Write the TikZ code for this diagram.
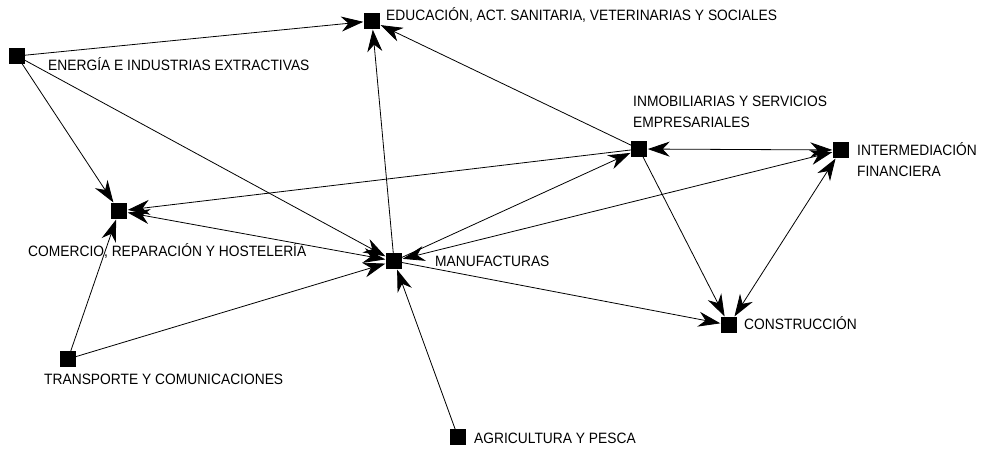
\documentclass[tikz,border=0pt]{standalone}
\usepackage{fontspec}
\setmainfont[FakeStretch=0.92]{Liberation Sans}
\usetikzlibrary{arrows.meta}

\tikzset{
    sector/.style = {
        draw,
        fill,
        rectangle,
        minimum size=15bp,
        inner sep=0pt
    },
    tag/.style = {
        anchor=base west,
        inner sep=0pt,
        align=left,
        font=\fontsize{15bp}{21bp}\selectfont
    },
    flow/.style = {
        -{Stealth[length=22bp, width=15bp, inset=7bp]},
        line width=0.8bp,
        shorten >=1bp
    },
    twoway/.style = {
        {Stealth[length=22bp, width=15bp, inset=7bp]}-{Stealth[length=22bp, width=15bp, inset=7bp]},
        line width=0.8bp,
        shorten >=1bp,
        shorten <=1bp
    }
}

\begin{document}
\begin{tikzpicture}[x=1bp, y=-1bp]
    \useasboundingbox (0,0) rectangle (982,449);

    % Draw all sectors
    \node[sector] (en) at (17,56)  {};
    \node[sector] (ed) at (372,21) {};
    \node[sector] (in) at (639,149) {};
    \node[sector] (if) at (841,150) {};
    \node[sector] (co) at (119,211) {};
    \node[sector] (ma) at (394,261) {};
    \node[sector] (cs) at (729,325) {};
    \node[sector] (tr) at (68,359)  {};
    \node[sector] (ag) at (458,437) {};

    % Draw labels
    \node[tag] (en-t) at (48,71)   {ENERGÍA E INDUSTRIAS EXTRACTIVAS};
    \node[tag] (ed-t) at (386,21)  {EDUCACIÓN, ACT. SANITARIA, VETERINARIAS Y SOCIALES};
    \node[tag] (in-t) at (633,128) {INMOBILIARIAS Y SERVICIOS\\EMPRESARIALES};
    \node[tag] (if-t) at (857,177) {INTERMEDIACIÓN\\FINANCIERA};
    \node[tag] (co-t) at (28,257)  {COMERCIO, REPARACIÓN Y HOSTELERÍA};
    \node[tag] (ma-t) at (435,267) {MANUFACTURAS};
    \node[tag] (cs-t) at (744,330) {CONSTRUCCIÓN};
    \node[tag] (tr-t) at (44,385)  {TRANSPORTE Y COMUNICACIONES};
    \node[tag] (ag-t) at (474,443) {AGRICULTURA Y PESCA};

    % Draw arrows
    \draw[flow] (en) -- (ed);
    \draw[flow] (en) -- (co);
    \draw[flow] (en) -- (ma);
    \draw[flow] (ma) -- (ed);
    \draw[flow] (in) -- (ed);
    \draw[flow] (in) -- (co);
    \draw[flow] (ma) -- (in);
    \draw[flow] (in) -- (cs);
    \draw[flow] (ma) -- (cs);
    \draw[flow] (tr) -- (co);
    \draw[flow] (tr) -- (ma);
    \draw[flow] (ag) -- (ma);
    %
    \draw[twoway] (in) -- (if);
    \draw[twoway] (co) -- (ma);
    \draw[twoway] (ma) -- (if);
    \draw[twoway] (if) -- (cs);
\end{tikzpicture}
\end{document}
